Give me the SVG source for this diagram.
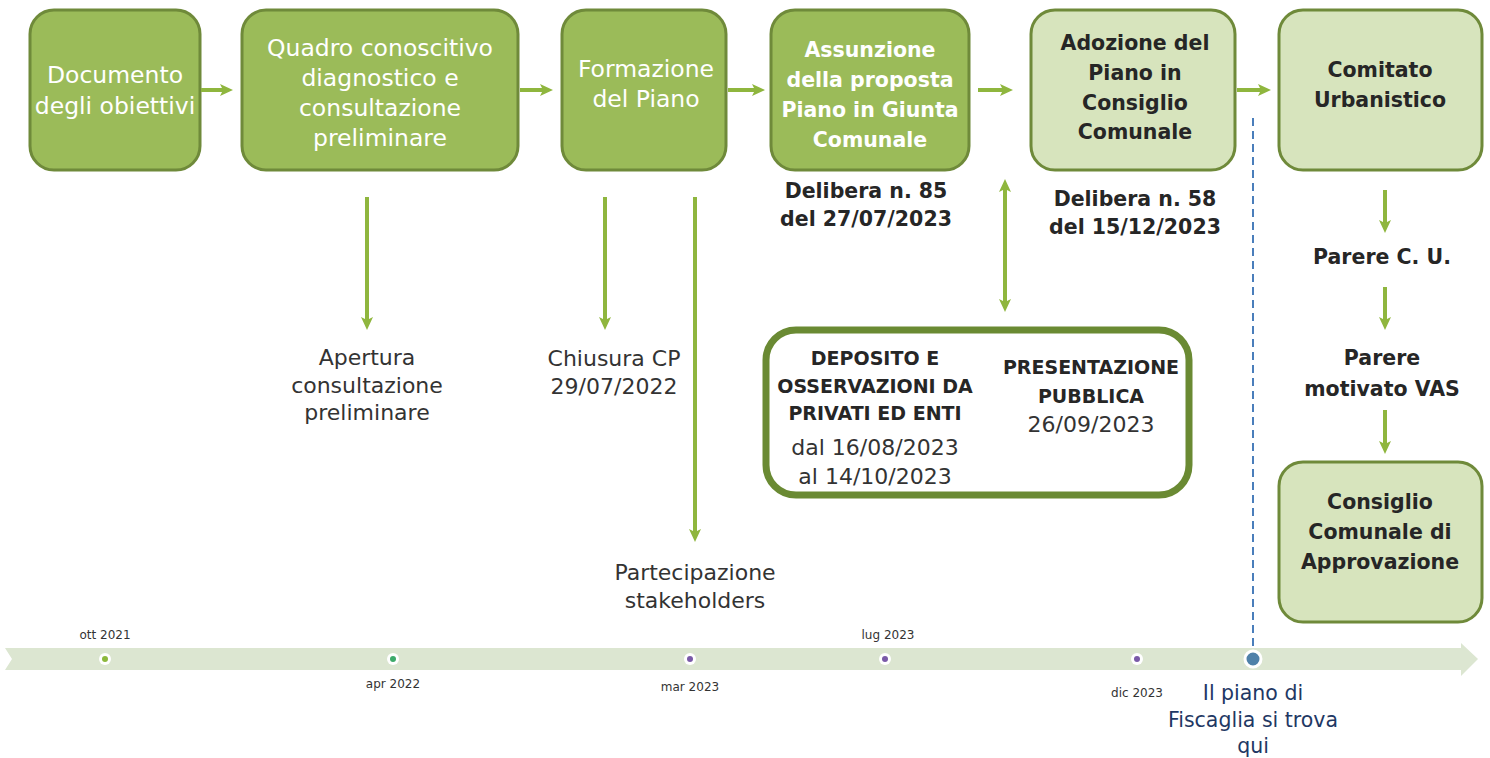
<svg xmlns="http://www.w3.org/2000/svg" width="1490" height="758" viewBox="0 0 1490 758">
  <defs>
    <marker id="head" viewBox="0 -6 13 12" refX="3" refY="0" markerWidth="13" markerHeight="12" markerUnits="userSpaceOnUse" orient="auto-start-reverse">
      <path d="M0,-6 L13,0 L0,6 L3,0 Z" fill="#8fb63e"/>
    </marker>
    <style>
      .dark { fill: #9bbb59; stroke: #6f8a3a; stroke-width: 3; }
      .light { fill: #d7e4bd; stroke: #6f8a3a; stroke-width: 3; }
      .wt { font-family: "DejaVu Sans", "Liberation Sans", sans-serif; font-size: 23.5px; font-weight: normal; fill: #ffffff; text-anchor: middle; }
      .wb { font-family: "DejaVu Sans", "Liberation Sans", sans-serif; font-size: 20.5px; font-weight: bold; fill: #ffffff; text-anchor: middle; }
      .db { font-family: "DejaVu Sans", "Liberation Sans", sans-serif; font-size: 20.5px; font-weight: bold; fill: #262626; text-anchor: middle; }
      .dr { font-family: "DejaVu Sans", "Liberation Sans", sans-serif; font-size: 22px; fill: #333333; text-anchor: middle; }
      .caps { font-family: "DejaVu Sans", "Liberation Sans", sans-serif; font-size: 19px; font-weight: bold; fill: #262626; text-anchor: middle; }
      .tick { font-family: "DejaVu Sans", "Liberation Sans", sans-serif; font-size: 12px; fill: #333333; text-anchor: middle; }
      .here { font-family: "DejaVu Sans", "Liberation Sans", sans-serif; font-size: 20.5px; fill: #1f3864; text-anchor: middle; }
      .conn { stroke: #8fb63e; stroke-width: 4; fill: none; marker-end: url(#head); }
    </style>
  </defs>

  <rect width="1490" height="758" fill="#ffffff"/>

  <!-- process steps -->
  <g id="documento">
    <rect class="dark" x="30" y="10" width="170" height="160" rx="24"/>
    <text class="wt" x="115" y="83">Documento</text>
    <text class="wt" x="115" y="114">degli obiettivi</text>
  </g>
  <g id="quadro">
    <rect class="dark" x="242" y="10" width="276" height="160" rx="24"/>
    <text class="wt" x="380" y="56">Quadro conoscitivo</text>
    <text class="wt" x="380" y="86">diagnostico e</text>
    <text class="wt" x="380" y="116">consultazione</text>
    <text class="wt" x="380" y="146">preliminare</text>
  </g>
  <g id="formazione">
    <rect class="dark" x="562" y="10" width="164" height="160" rx="24"/>
    <text class="wt" x="646" y="77">Formazione</text>
    <text class="wt" x="646" y="107">del Piano</text>
  </g>
  <g id="assunzione">
    <rect class="dark" x="771" y="10" width="198" height="160" rx="24"/>
    <text class="wb" x="870" y="57">Assunzione</text>
    <text class="wb" x="870" y="87">della proposta</text>
    <text class="wb" x="870" y="117">Piano in Giunta</text>
    <text class="wb" x="870" y="147">Comunale</text>
  </g>
  <g id="delibera85">
    <text class="db" x="866" y="198">Delibera n. 85</text>
    <text class="db" x="866" y="226">del 27/07/2023</text>
  </g>
  <g id="adozione">
    <rect class="light" x="1031" y="10" width="204" height="160" rx="24"/>
    <text class="db" x="1135" y="50">Adozione del</text>
    <text class="db" x="1135" y="80">Piano in</text>
    <text class="db" x="1135" y="110">Consiglio</text>
    <text class="db" x="1135" y="139">Comunale</text>
  </g>
  <g id="delibera58">
    <text class="db" x="1135" y="206">Delibera n. 58</text>
    <text class="db" x="1135" y="234">del 15/12/2023</text>
  </g>
  <g id="comitato">
    <rect class="light" x="1279" y="10" width="203" height="160" rx="24"/>
    <text class="db" x="1380" y="77">Comitato</text>
    <text class="db" x="1380" y="107">Urbanistico</text>
  </g>
  <g id="parere-cu">
    <text class="db" x="1382" y="264">Parere C. U.</text>
  </g>
  <g id="parere-vas">
    <text class="db" x="1382" y="365">Parere</text>
    <text class="db" x="1382" y="396">motivato VAS</text>
  </g>
  <g id="approvazione">
    <rect class="light" x="1279" y="462" width="203" height="160" rx="24"/>
    <text class="db" x="1380" y="509">Consiglio</text>
    <text class="db" x="1380" y="539">Comunale di</text>
    <text class="db" x="1380" y="569">Approvazione</text>
  </g>

  <!-- side events -->
  <g id="apertura">
    <text class="dr" x="367" y="365">Apertura</text>
    <text class="dr" x="367" y="393">consultazione</text>
    <text class="dr" x="367" y="420">preliminare</text>
  </g>
  <g id="chiusura">
    <text class="dr" x="614" y="366">Chiusura CP</text>
    <text class="dr" x="614" y="394">29/07/2022</text>
  </g>
  <g id="partecipazione">
    <text class="dr" x="695" y="580">Partecipazione</text>
    <text class="dr" x="695" y="608">stakeholders</text>
  </g>
  <g id="deposito">
    <rect x="766" y="330" width="423" height="165" rx="30" fill="#ffffff" stroke="#6a8a33" stroke-width="7"/>
    <text class="caps" x="875" y="365">DEPOSITO E</text>
    <text class="caps" x="875" y="393">OSSERVAZIONI DA</text>
    <text class="caps" x="875" y="420">PRIVATI ED ENTI</text>
    <text class="dr" x="875" y="455">dal 16/08/2023</text>
    <text class="dr" x="875" y="484">al 14/10/2023</text>
    <text class="caps" x="1091" y="374">PRESENTAZIONE</text>
    <text class="caps" x="1091" y="403">PUBBLICA</text>
    <text class="dr" x="1091" y="432">26/09/2023</text>
  </g>

  <!-- connectors -->
  <g id="connectors">
    <line class="conn" x1="201" y1="90" x2="223" y2="90"/>
    <line class="conn" x1="520" y1="90" x2="543" y2="90"/>
    <line class="conn" x1="728" y1="90" x2="755" y2="90"/>
    <line class="conn" x1="978" y1="90" x2="1003" y2="90"/>
    <line class="conn" x1="1237" y1="90" x2="1261" y2="90"/>
    <line class="conn" x1="367" y1="197" x2="367" y2="320"/>
    <line class="conn" x1="605" y1="197" x2="605" y2="320"/>
    <line class="conn" x1="695" y1="197" x2="695" y2="532"/>
    <line class="conn" x1="1005" y1="189" x2="1005" y2="302" marker-start="url(#head)"/>
    <line class="conn" x1="1385" y1="190" x2="1385" y2="223"/>
    <line class="conn" x1="1385" y1="287" x2="1385" y2="320"/>
    <line class="conn" x1="1385" y1="410" x2="1385" y2="444"/>
    <line x1="1253" y1="118" x2="1253" y2="650" stroke="#4a7ebb" stroke-width="2" stroke-dasharray="8 5"/>
  </g>

  <!-- timeline -->
  <g id="timeline">
    <polygon points="5,648 1461,648 1461,643 1478,659 1461,676 1461,670 5,670 12,659" fill="#dce6d1"/>
    <circle cx="105" cy="659" r="6" fill="#ffffff"/><circle cx="105" cy="659" r="3" fill="#8cb83c"/>
    <circle cx="393" cy="659" r="6" fill="#ffffff"/><circle cx="393" cy="659" r="3" fill="#3daa6a"/>
    <circle cx="690" cy="659" r="6" fill="#ffffff"/><circle cx="690" cy="659" r="3" fill="#7a5aa8"/>
    <circle cx="885" cy="659" r="6" fill="#ffffff"/><circle cx="885" cy="659" r="3" fill="#7a5aa8"/>
    <circle cx="1137" cy="659" r="6" fill="#ffffff"/><circle cx="1137" cy="659" r="3" fill="#7a5aa8"/>
    <circle cx="1253" cy="659" r="8" fill="#4f81a9" stroke="#ffffff" stroke-width="3"/>
    <text class="tick" x="105" y="639">ott 2021</text>
    <text class="tick" x="393" y="688">apr 2022</text>
    <text class="tick" x="690" y="691">mar 2023</text>
    <text class="tick" x="888" y="639">lug 2023</text>
    <text class="tick" x="1137" y="697">dic 2023</text>
  </g>
  <g id="marker-here">
    <text class="here" x="1253" y="700">Il piano di</text>
    <text class="here" x="1253" y="727">Fiscaglia si trova</text>
    <text class="here" x="1253" y="753">qui</text>
  </g>
</svg>
